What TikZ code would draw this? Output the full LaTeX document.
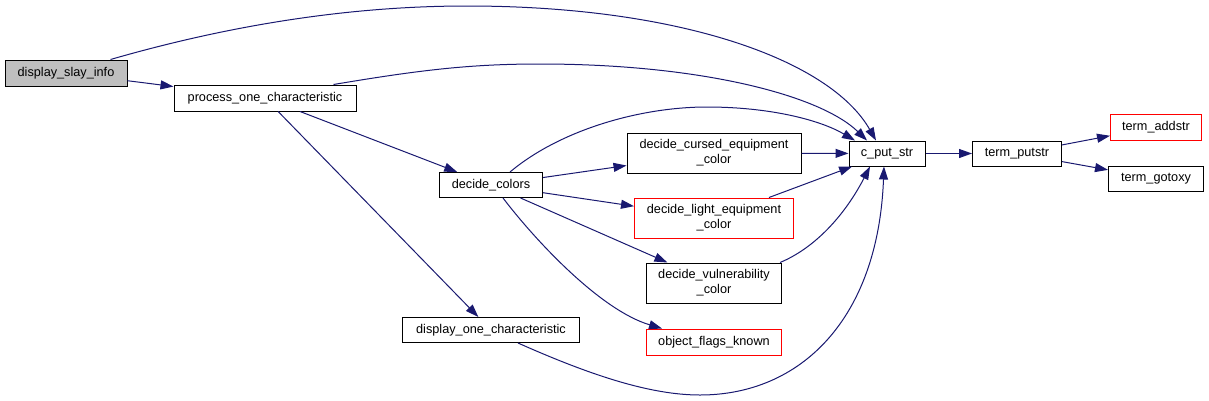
\documentclass[tikz,border=0pt]{standalone}
\usepackage{fontspec}
\setmainfont{Liberation Sans}
\usetikzlibrary{arrows.meta}
\definecolor{edgec}{HTML}{191970}
\definecolor{grayfill}{HTML}{BFBFBF}
\begin{document}
\begin{tikzpicture}[x=1pt,y=-1pt,
  box/.style={draw=black, line width=1pt, fill=white, inner sep=0pt, align=center,
    font=\fontsize{12.7}{15}\selectfont},
  redbox/.style={box, draw=red},
  edge/.style={draw=edgec, line width=1pt, -{Triangle[length=13pt,width=9pt]}}]
\useasboundingbox (0,0) rectangle (1209,400);
\node[box, fill=grayfill, minimum width=122pt, minimum height=26pt] (dsi) at (66,73) {display\_slay\_info};
\node[box, minimum width=182pt, minimum height=26pt] (poc) at (265,98) {process\_one\_characteristic};
\node[box, minimum width=103pt, minimum height=25pt] (dc) at (491,185) {decide\_colors};
\node[box, minimum width=174pt, minimum height=40pt] (dce) at (714,153) {decide\_cursed\_equipment\\\_color};
\node[box, minimum width=76pt, minimum height=25pt] (cps) at (887,153.5) {c\_put\_str};
\node[redbox, minimum width=159pt, minimum height=40pt] (dle) at (714,218) {decide\_light\_equipment\\\_color};
\node[box, minimum width=135pt, minimum height=40pt] (dvc) at (714,283) {decide\_vulnerability\\\_color};
\node[box, minimum width=177pt, minimum height=25pt] (doc) at (491,330) {display\_one\_characteristic};
\node[redbox, minimum width=135pt, minimum height=26pt] (ofk) at (714,342) {object\_flags\_known};
\node[box, minimum width=89pt, minimum height=25pt] (tps) at (1017,153.5) {term\_putstr};
\node[redbox, minimum width=91pt, minimum height=26pt] (tas) at (1156,127) {term\_addstr};
\node[box, minimum width=95pt, minimum height=25pt] (tgx) at (1156,178.5) {term\_gotoxy};

% straight edges
\draw[edge] (dsi) -- (poc);
\draw[edge] (poc) -- (dc);
\draw[edge] (poc) -- (doc);
\draw[edge] (dc) -- (dce);
\draw[edge] (dc) -- (dle);
\draw[edge] (dc) -- (dvc);
\draw[edge] (dce) -- (cps);
\draw[edge] (dle) -- (cps);
\draw[edge] (cps) -- (tps);
\draw[edge] (tps) -- (tas);
\draw[edge] (tps) -- (tgx);

% curved edges
\draw[edge] ([xshift=-17pt]dsi.north east) .. controls (230,25) and (350,6) .. (467,6)
  .. controls (680,6) and (830,60) .. ([xshift=-11pt]cps.north);
\draw[edge] ([xshift=-23pt]poc.north east) .. controls (420,70) and (470,64) .. (540,64)
  .. controls (700,64) and (820,95) .. ([xshift=-20pt]cps.north);
\draw[edge] ([xshift=19pt]dc.north) .. controls (560,130) and (640,107) .. (707,107)
  .. controls (770,107) and (820,120) .. ([xshift=-32pt]cps.north);
\draw[edge] ([xshift=12pt]dc.south) .. controls (535,240) and (600,310) .. ([xshift=-52pt]ofk.north);
\draw[edge] ([xshift=-2pt]dvc.north east) .. controls (815,248) and (845,215) .. ([xshift=-17pt]cps.south);
\draw[edge] ([xshift=27pt]doc.south) .. controls (590,375) and (650,395) .. (700,395)
  .. controls (800,395) and (878,320) .. ([xshift=-3pt]cps.south);
\end{tikzpicture}
\end{document}
